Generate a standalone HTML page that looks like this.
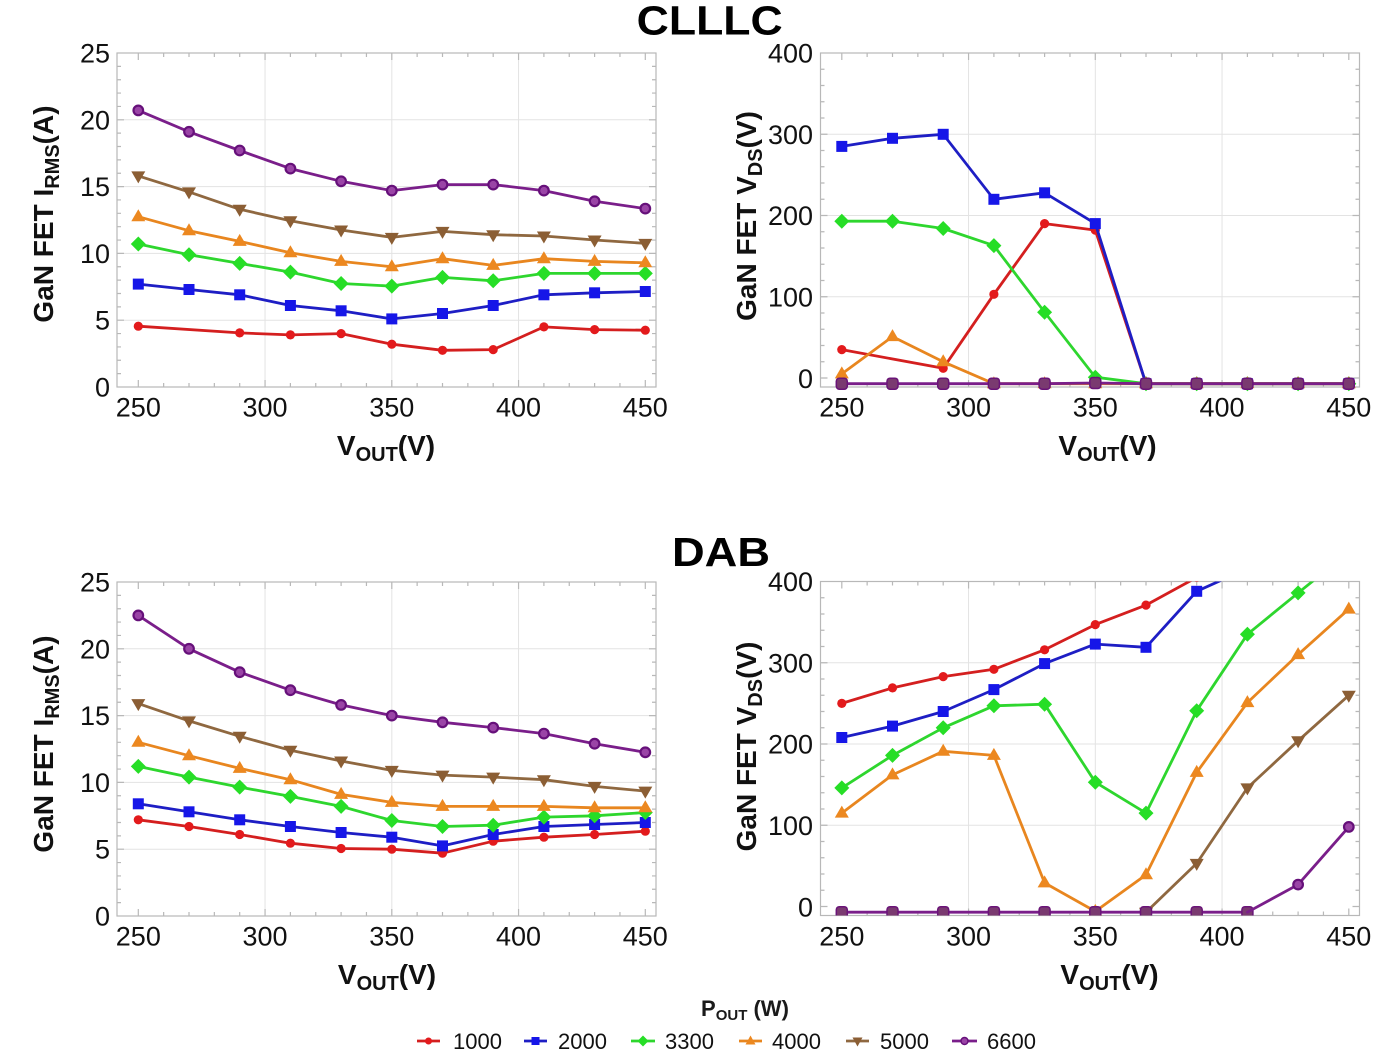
<!DOCTYPE html>
<html>
<head>
<meta charset="utf-8">
<style>
html,body{margin:0;padding:0;background:#fff;}
svg{display:block;font-family:"Liberation Sans",Arial,sans-serif;}
.tk{font-size:27px;fill:#111;}
.ax{font-size:28px;font-weight:bold;fill:#111;}
.ln{fill:none;stroke-width:2.8;stroke-linejoin:round;stroke-linecap:round;}
</style>
</head>
<body>
<svg width="1400" height="1052" viewBox="0 0 1400 1052" xmlns="http://www.w3.org/2000/svg">
<defs>
  <marker id="mR" markerUnits="userSpaceOnUse" markerWidth="20" markerHeight="20" refX="10" refY="10" viewBox="0 0 20 20" overflow="visible"><circle cx="10" cy="10" r="4.6" fill="#e31a1c"/></marker>
  <marker id="mB" markerUnits="userSpaceOnUse" markerWidth="20" markerHeight="20" refX="10" refY="10" viewBox="0 0 20 20" overflow="visible"><rect x="4.5" y="4.5" width="11" height="11" fill="#1616e8"/></marker>
  <marker id="mG" markerUnits="userSpaceOnUse" markerWidth="20" markerHeight="20" refX="10" refY="10" viewBox="0 0 20 20" overflow="visible"><path d="M10 2.5L17.5 10L10 17.5L2.5 10Z" fill="#26de26"/></marker>
  <marker id="mO" markerUnits="userSpaceOnUse" markerWidth="20" markerHeight="20" refX="10" refY="10" viewBox="0 0 20 20" overflow="visible"><path d="M10 2.5L17 14.5L3 14.5Z" fill="#ec8820"/></marker>
  <marker id="mN" markerUnits="userSpaceOnUse" markerWidth="20" markerHeight="20" refX="10" refY="10" viewBox="0 0 20 20" overflow="visible"><path d="M3 5.5L17 5.5L10 17.5Z" fill="#8b5e34"/></marker>
  <marker id="mP" markerUnits="userSpaceOnUse" markerWidth="20" markerHeight="20" refX="10" refY="10" viewBox="0 0 20 20" overflow="visible"><circle cx="10" cy="10" r="4.8" fill="#9a44a6" stroke="#66107a" stroke-width="2.2"/></marker>
  <marker id="mQ" markerUnits="userSpaceOnUse" markerWidth="20" markerHeight="20" refX="10" refY="10" viewBox="0 0 20 20" overflow="visible"><rect x="4.5" y="4.5" width="11" height="11" rx="3" fill="#7a3a70" stroke="#6a1478" stroke-width="1.5"/></marker>
  <clipPath id="clp"><rect x="0" y="0" width="539" height="334"/></clipPath>
  <path id="xt" fill="none" stroke="#b8b8b8" stroke-width="1.2" d="M21.3 334V327M21.3 0V7M46.65 334V330M46.65 0V4M72 334V330M72 0V4M97.35 334V330M97.35 0V4M122.7 334V330M122.7 0V4M148.05 334V327M148.05 0V7M173.4 334V330M173.4 0V4M198.75 334V330M198.75 0V4M224.1 334V330M224.1 0V4M249.45 334V330M249.45 0V4M274.8 334V327M274.8 0V7M300.15 334V330M300.15 0V4M325.5 334V330M325.5 0V4M350.85 334V330M350.85 0V4M376.2 334V330M376.2 0V4M401.55 334V327M401.55 0V7M426.9 334V330M426.9 0V4M452.25 334V330M452.25 0V4M477.6 334V330M477.6 0V4M502.95 334V330M502.95 0V4M528.3 334V327M528.3 0V7"/>
  <path id="ytL" fill="none" stroke="#b8b8b8" stroke-width="1.2" d="M0 320.64H4M539 320.64H535M0 307.28H4M539 307.28H535M0 293.92H4M539 293.92H535M0 280.56H4M539 280.56H535M0 267.2H7M539 267.2H532M0 253.84H4M539 253.84H535M0 240.48H4M539 240.48H535M0 227.12H4M539 227.12H535M0 213.76H4M539 213.76H535M0 200.4H7M539 200.4H532M0 187.04H4M539 187.04H535M0 173.68H4M539 173.68H535M0 160.32H4M539 160.32H535M0 146.96H4M539 146.96H535M0 133.6H7M539 133.6H532M0 120.24H4M539 120.24H535M0 106.88H4M539 106.88H535M0 93.52H4M539 93.52H535M0 80.16H4M539 80.16H535M0 66.8H7M539 66.8H532M0 53.44H4M539 53.44H535M0 40.08H4M539 40.08H535M0 26.72H4M539 26.72H535M0 13.36H4M539 13.36H535"/>
  <path id="ytR" fill="none" stroke="#b8b8b8" stroke-width="1.2" d="M0 325H7M539 325H532M0 308.75H4M539 308.75H535M0 292.5H4M539 292.5H535M0 276.25H4M539 276.25H535M0 260H4M539 260H535M0 243.75H7M539 243.75H532M0 227.5H4M539 227.5H535M0 211.25H4M539 211.25H535M0 195H4M539 195H535M0 178.75H4M539 178.75H535M0 162.5H7M539 162.5H532M0 146.25H4M539 146.25H535M0 130H4M539 130H535M0 113.75H4M539 113.75H535M0 97.5H4M539 97.5H535M0 81.25H7M539 81.25H532M0 65H4M539 65H535M0 48.75H4M539 48.75H535M0 32.5H4M539 32.5H535M0 16.25H4M539 16.25H535"/>
  <path id="gL" fill="none" stroke="#e3e3e3" stroke-width="1" d="M148.05 0V334M274.8 0V334M401.55 0V334M0 267.2H539M0 200.4H539M0 133.6H539M0 66.8H539"/>
  <path id="gR" fill="none" stroke="#e3e3e3" stroke-width="1" d="M148.05 0V334M274.8 0V334M401.55 0V334M0 243.75H539M0 162.5H539M0 81.25H539"/>
</defs>

<!-- Titles -->
<text x="636.7" y="34.5" font-size="41" font-weight="bold" fill="#000" textLength="146" lengthAdjust="spacingAndGlyphs">CLLLC</text>
<text x="672" y="566" font-size="41" font-weight="bold" fill="#000" textLength="98" lengthAdjust="spacingAndGlyphs">DAB</text>

<!-- ============ TOP LEFT ============ -->
<g transform="translate(117,53)">
  <use href="#gL"/>
  <rect x="0" y="0" width="539" height="334" fill="none" stroke="#b8b8b8" stroke-width="1.2"/>
  <use href="#xt"/><use href="#ytL"/>
  <g class="tk" text-anchor="end">
    <text x="-7" y="343.5">0</text><text x="-7" y="276.7">5</text><text x="-7" y="209.9">10</text><text x="-7" y="143.1">15</text><text x="-7" y="76.3">20</text><text x="-7" y="9.5">25</text>
  </g>
  <g class="tk" text-anchor="middle">
    <text x="21.3" y="363.5">250</text><text x="148.05" y="363.5">300</text><text x="274.8" y="363.5">350</text><text x="401.55" y="363.5">400</text><text x="528.3" y="363.5">450</text>
  </g>
  <text class="ax" text-anchor="middle" transform="translate(-64,161) rotate(-90)">GaN FET I<tspan font-size="20" dy="6">RMS</tspan><tspan dy="-6">(A)</tspan></text>
  <text class="ax" text-anchor="middle" x="269" y="402">V<tspan font-size="20" dy="6">OUT</tspan><tspan dy="-6">(V)</tspan></text>
  <polyline class="ln" stroke="#d41f1f" marker-start="url(#mR)" marker-mid="url(#mR)" marker-end="url(#mR)" points="21.3,273.2 122.7,279.9 173.4,281.9 224.1,280.6 274.8,291.2 325.5,297.3 376.2,296.6 426.9,273.9 477.6,276.6 528.3,277.2"/>
  <polyline class="ln" stroke="#1e1ec4" marker-start="url(#mB)" marker-mid="url(#mB)" marker-end="url(#mB)" points="21.3,231.1 72,236.5 122.7,241.8 173.4,252.5 224.1,257.8 274.8,265.9 325.5,260.5 376.2,252.5 426.9,241.8 477.6,239.8 528.3,238.5"/>
  <polyline class="ln" stroke="#2ed62e" marker-start="url(#mG)" marker-mid="url(#mG)" marker-end="url(#mG)" points="21.3,191 72,201.7 122.7,210.4 173.4,219.1 224.1,230.5 274.8,233.1 325.5,224.4 376.2,227.8 426.9,220.4 477.6,220.4 528.3,220.4"/>
  <polyline class="ln" stroke="#e8861f" marker-start="url(#mO)" marker-mid="url(#mO)" marker-end="url(#mO)" points="21.3,163.7 72,177.7 122.7,188.4 173.4,199.7 224.1,208.4 274.8,213.8 325.5,205.7 376.2,212.4 426.9,205.7 477.6,208.4 528.3,209.8"/>
  <polyline class="ln" stroke="#8f6840" marker-start="url(#mN)" marker-mid="url(#mN)" marker-end="url(#mN)" points="21.3,122.9 72,138.9 122.7,156.3 173.4,167.7 224.1,177 274.8,184.4 325.5,178.4 376.2,181.7 426.9,183 477.6,187 528.3,190.4"/>
  <polyline class="ln" stroke="#7a1e8a" marker-start="url(#mP)" marker-mid="url(#mP)" marker-end="url(#mP)" points="21.3,57.4 72,78.8 122.7,97.5 173.4,115.6 224.1,128.3 274.8,137.6 325.5,131.6 376.2,131.6 426.9,137.6 477.6,148.3 528.3,155.6"/>
</g>

<!-- ============ TOP RIGHT ============ -->
<g transform="translate(820.5,53)">
  <use href="#gR"/>
  <rect x="0" y="0" width="539" height="334" fill="none" stroke="#b8b8b8" stroke-width="1.2"/>
  <use href="#xt"/><use href="#ytR"/>
  <g class="tk" text-anchor="end">
    <text x="-7.5" y="335">0</text><text x="-7.5" y="253.25">100</text><text x="-7.5" y="172">200</text><text x="-7.5" y="90.75">300</text><text x="-7.5" y="9.5">400</text>
  </g>
  <g class="tk" text-anchor="middle">
    <text x="21.3" y="363.5">250</text><text x="148.05" y="363.5">300</text><text x="274.8" y="363.5">350</text><text x="401.55" y="363.5">400</text><text x="528.3" y="363.5">450</text>
  </g>
  <text class="ax" text-anchor="middle" transform="translate(-64.5,163) rotate(-90)">GaN FET V<tspan font-size="20" dy="6">DS</tspan><tspan dy="-6">(V)</tspan></text>
  <text class="ax" text-anchor="middle" x="287" y="402">V<tspan font-size="20" dy="6">OUT</tspan><tspan dy="-6">(V)</tspan></text>
  <polyline class="ln" stroke="#d41f1f" marker-start="url(#mR)" marker-mid="url(#mR)" marker-end="url(#mR)" points="21.3,296.6 122.7,315.3 173.4,241.3 224.1,170.6 274.8,177.1 325.5,330.7 376.2,330.7 426.9,330.7 477.6,330.7 528.3,330.7"/>
  <polyline class="ln" stroke="#1e1ec4" marker-start="url(#mB)" marker-mid="url(#mB)" marker-end="url(#mB)" points="21.3,93.4 72,85.3 122.7,81.3 173.4,146.3 224.1,139.8 274.8,170.6 325.5,330.7 376.2,330.7 426.9,330.7 477.6,330.7 528.3,330.7"/>
  <polyline class="ln" stroke="#2ed62e" marker-start="url(#mG)" marker-mid="url(#mG)" marker-end="url(#mG)" points="21.3,168.2 72,168.2 122.7,175.5 173.4,192.6 224.1,259.2 274.8,324.2 325.5,330.7 376.2,330.7 426.9,330.7 477.6,330.7 528.3,330.7"/>
  <polyline class="ln" stroke="#e8861f" marker-start="url(#mO)" marker-mid="url(#mO)" marker-end="url(#mO)" points="21.3,320.9 72,283.6 122.7,308.8 173.4,330.7 224.1,330.7 274.8,330.7 325.5,330.7 376.2,330.7 426.9,330.7 477.6,330.7 528.3,330.7"/>
  <polyline class="ln" stroke="#7a1e8a" stroke-width="3.6" marker-start="url(#mQ)" marker-mid="url(#mQ)" marker-end="url(#mQ)" points="21.3,330.7 72,330.7 122.7,330.7 173.4,330.7 224.1,330.7 274.8,330 325.5,330.7 376.2,330.7 426.9,330.7 477.6,330.7 528.3,330.7"/>
</g>

<!-- ============ BOTTOM LEFT ============ -->
<g transform="translate(117,582)">
  <use href="#gL"/>
  <rect x="0" y="0" width="539" height="334" fill="none" stroke="#b8b8b8" stroke-width="1.2"/>
  <use href="#xt"/><use href="#ytL"/>
  <g class="tk" text-anchor="end">
    <text x="-7" y="343.5">0</text><text x="-7" y="276.7">5</text><text x="-7" y="209.9">10</text><text x="-7" y="143.1">15</text><text x="-7" y="76.3">20</text><text x="-7" y="9.5">25</text>
  </g>
  <g class="tk" text-anchor="middle">
    <text x="21.3" y="363.5">250</text><text x="148.05" y="363.5">300</text><text x="274.8" y="363.5">350</text><text x="401.55" y="363.5">400</text><text x="528.3" y="363.5">450</text>
  </g>
  <text class="ax" text-anchor="middle" transform="translate(-64,162) rotate(-90)">GaN FET I<tspan font-size="20" dy="6">RMS</tspan><tspan dy="-6">(A)</tspan></text>
  <text class="ax" text-anchor="middle" x="270" y="402">V<tspan font-size="20" dy="6">OUT</tspan><tspan dy="-6">(V)</tspan></text>
  <polyline class="ln" stroke="#d41f1f" marker-start="url(#mR)" marker-mid="url(#mR)" marker-end="url(#mR)" points="21.3,237.8 72,244.5 122.7,252.5 173.4,261.2 224.1,266.5 274.8,267.2 325.5,271.2 376.2,259.2 426.9,255.2 477.6,252.5 528.3,249.2"/>
  <polyline class="ln" stroke="#1e1ec4" marker-start="url(#mB)" marker-mid="url(#mB)" marker-end="url(#mB)" points="21.3,221.8 72,229.8 122.7,237.8 173.4,244.5 224.1,250.5 274.8,255.2 325.5,263.9 376.2,252.5 426.9,244.5 477.6,242.5 528.3,240.5"/>
  <polyline class="ln" stroke="#2ed62e" marker-start="url(#mG)" marker-mid="url(#mG)" marker-end="url(#mG)" points="21.3,184.4 72,195.1 122.7,205.1 173.4,214.4 224.1,224.4 274.8,238.5 325.5,244.5 376.2,243.2 426.9,235.1 477.6,233.8 528.3,230.5"/>
  <polyline class="ln" stroke="#e8861f" marker-start="url(#mO)" marker-mid="url(#mO)" marker-end="url(#mO)" points="21.3,160.3 72,173.7 122.7,186.4 173.4,197.7 224.1,212.4 274.8,220.4 325.5,224.4 376.2,224.4 426.9,224.4 477.6,225.8 528.3,225.8"/>
  <polyline class="ln" stroke="#8f6840" marker-start="url(#mN)" marker-mid="url(#mN)" marker-end="url(#mN)" points="21.3,121.6 72,138.9 122.7,154.3 173.4,168.3 224.1,179 274.8,188.4 325.5,193.1 376.2,195.1 426.9,197.7 477.6,204.4 528.3,209.1"/>
  <polyline class="ln" stroke="#7a1e8a" marker-start="url(#mP)" marker-mid="url(#mP)" marker-end="url(#mP)" points="21.3,33.4 72,66.8 122.7,90.2 173.4,108.2 224.1,122.9 274.8,133.6 325.5,140.3 376.2,145.6 426.9,151.6 477.6,161.7 528.3,170.3"/>
</g>

<!-- ============ BOTTOM RIGHT ============ -->
<g transform="translate(820.5,581.5)">
  <use href="#gR"/>
  <rect x="0" y="0" width="539" height="334" fill="none" stroke="#b8b8b8" stroke-width="1.2"/>
  <use href="#xt"/><use href="#ytR"/>
  <g class="tk" text-anchor="end">
    <text x="-7.5" y="335">0</text><text x="-7.5" y="253.25">100</text><text x="-7.5" y="172">200</text><text x="-7.5" y="90.75">300</text><text x="-7.5" y="9.5">400</text>
  </g>
  <g class="tk" text-anchor="middle">
    <text x="21.3" y="364">250</text><text x="148.05" y="364">300</text><text x="274.8" y="364">350</text><text x="401.55" y="364">400</text><text x="528.3" y="364">450</text>
  </g>
  <text class="ax" text-anchor="middle" transform="translate(-64.5,165) rotate(-90)">GaN FET V<tspan font-size="20" dy="6">DS</tspan><tspan dy="-6">(V)</tspan></text>
  <text class="ax" text-anchor="middle" x="289" y="402.5">V<tspan font-size="20" dy="6">OUT</tspan><tspan dy="-6">(V)</tspan></text>
  <g clip-path="url(#clp)">
    <polyline class="ln" stroke="#d41f1f" marker-start="url(#mR)" marker-mid="url(#mR)" marker-end="url(#mR)" points="21.3,121.9 72,106.4 122.7,95.1 173.4,87.8 224.1,68.3 274.8,43.1 325.5,23.6 376.2,-4.1 426.9,-32.5 477.6,-56.9 528.3,-81.3"/>
    <polyline class="ln" stroke="#1e1ec4" marker-start="url(#mB)" marker-mid="url(#mB)" marker-end="url(#mB)" points="21.3,156 72,144.6 122.7,130 173.4,108.1 224.1,82.1 274.8,62.6 325.5,65.8 376.2,9.8 426.9,-13 477.6,-32.5 528.3,-48.8"/>
    <polyline class="ln" stroke="#2ed62e" marker-start="url(#mG)" marker-mid="url(#mG)" marker-end="url(#mG)" points="21.3,206.4 72,173.9 122.7,146.3 173.4,124.3 224.1,122.7 274.8,200.7 325.5,231.6 376.2,129.2 426.9,52.8 477.6,11.4 528.3,-29.3"/>
    <polyline class="ln" stroke="#e8861f" marker-start="url(#mO)" marker-mid="url(#mO)" marker-end="url(#mO)" points="21.3,231.6 72,193.4 122.7,169.8 173.4,173.9 224.1,301.4 274.8,329.9 325.5,293.3 376.2,190.9 426.9,121.1 477.6,73.1 528.3,27.6"/>
    <polyline class="ln" stroke="#8f6840" marker-start="url(#mN)" marker-mid="url(#mN)" marker-end="url(#mN)" points="325.5,330.7 376.2,281.9 426.9,206.4 477.6,159.3 528.3,113.8"/>
    <polyline class="ln" stroke="#7a1e8a" stroke-width="3.6" marker-start="url(#mQ)" marker-mid="url(#mQ)" marker-end="url(#mQ)" points="21.3,330.7 72,330.7 122.7,330.7 173.4,330.7 224.1,330.7 274.8,330.7 325.5,330.7 376.2,330.7 426.9,330.7"/>
    <polyline class="ln" stroke="#7a1e8a" marker-mid="url(#mP)" marker-end="url(#mP)" points="426.9,330.7 477.6,303.1 528.3,245.4"/>
  </g>
</g>

<!-- ============ LEGEND ============ -->
<text x="701" y="1016" font-size="22" font-weight="bold" fill="#1a1a1a">P<tspan font-size="15" dy="4">OUT</tspan><tspan dy="-4"> (W)</tspan></text>
<g font-size="22" fill="#111">
  <line x1="417" y1="1041" x2="440" y2="1041" stroke="#d41f1f" stroke-width="2.8"/>
  <circle cx="428.5" cy="1041" r="3.5" fill="#e31a1c"/>
  <text x="453" y="1049">1000</text>
  <line x1="524" y1="1041" x2="547" y2="1041" stroke="#1e1ec4" stroke-width="2.8"/>
  <rect x="531.5" y="1037" width="8" height="8" fill="#1616e8"/>
  <text x="558" y="1049">2000</text>
  <line x1="631" y1="1041" x2="655" y2="1041" stroke="#2ed62e" stroke-width="2.8"/>
  <path d="M643 1035.5L648.5 1041L643 1046.5L637.5 1041Z" fill="#26de26"/>
  <text x="665" y="1049">3300</text>
  <line x1="739" y1="1041" x2="762" y2="1041" stroke="#e8861f" stroke-width="2.8"/>
  <path d="M750.5 1035.5L755.5 1044.5L745.5 1044.5Z" fill="#ec8820"/>
  <text x="772" y="1049">4000</text>
  <line x1="846" y1="1041" x2="869" y2="1041" stroke="#8f6840" stroke-width="2.8"/>
  <path d="M852.5 1037.5L862.5 1037.5L857.5 1046.5Z" fill="#8b5e34"/>
  <text x="880" y="1049">5000</text>
  <line x1="952" y1="1041" x2="977" y2="1041" stroke="#7a1e8a" stroke-width="2.8"/>
  <circle cx="964.5" cy="1041" r="3.5" fill="#9a44a6" stroke="#66107a" stroke-width="1.5"/>
  <text x="987" y="1049">6600</text>
</g>
</svg>
</body>
</html>
